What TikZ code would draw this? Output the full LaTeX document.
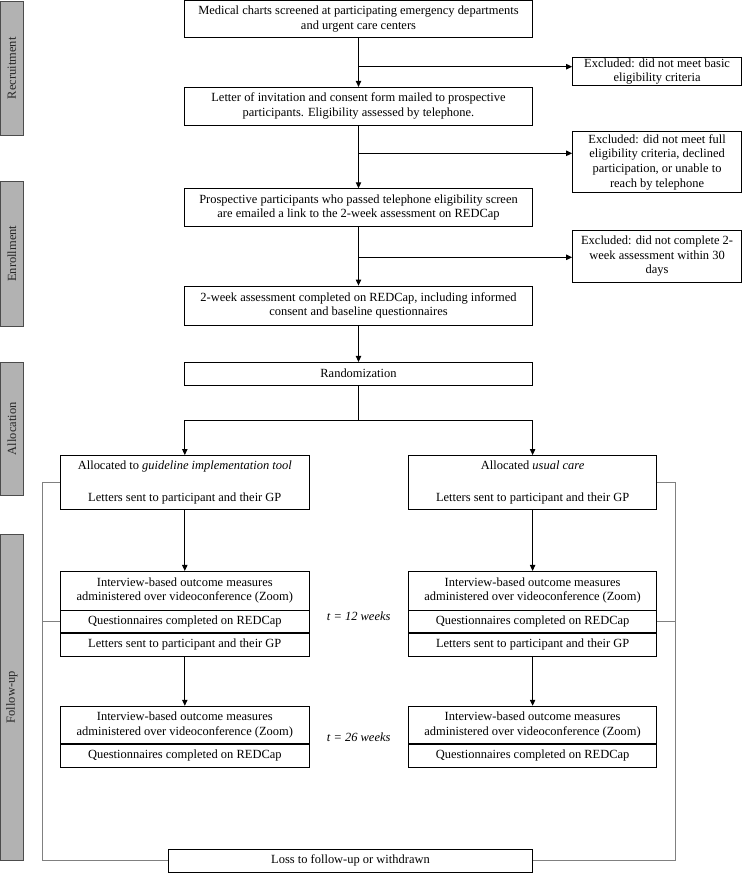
\documentclass[tikz,border=0pt]{standalone}
\usepackage{fontspec}
\setmainfont{Liberation Serif}
\usetikzlibrary{arrows.meta, positioning}

\begin{document}
\begin{tikzpicture}[
  x=0.75pt, y=-0.75pt,
  font=\fontsize{9.35}{10.9}\selectfont,
  stage/.style={draw, line width=0.6pt, fill=white, align=center, inner sep=0pt, minimum width=260.9pt},
  excluded/.style={draw, line width=0.6pt, fill=white, align=center, inner sep=0pt, minimum width=126.75pt},
  arm/.style={draw, line width=0.6pt, fill=white, align=center, inner sep=0pt, minimum width=186.3pt},
  phase/.style={draw=black!70, fill=black!30, line width=0.6pt, rotate=90, inner sep=0pt, minimum height=17.8pt, text=black!85},
  flow/.style={line width=0.75pt, -{Triangle[length=4.5pt, width=4pt]}},
  dropout/.style={draw=black!50, line width=0.6pt},
  timepoint/.style={font=\fontsize{9.35}{10.9}\selectfont\itshape}
  ]
  \useasboundingbox (0,0) rectangle (742,873);

  % Phase bars
  \node[phase, minimum width=100pt] (recruit) at (11.85,68.3) {Recruitment};
  \node[phase, minimum width=109.3pt] (enrol) at (11.85,253.8) {Enrollment};
  \node[phase, minimum width=99.5pt] (alloc) at (11.85,428.7) {Allocation};
  \node[phase, minimum width=245pt] (follow) at (11.85,697.3) {Follow-up};

  % Screening and enrollment
  \node[stage, minimum height=27.75pt] (charts) at (358.5,19) {Medical charts screened at participating emergency departments\\and urgent care centers};
  \node[excluded, minimum height=21pt] (excl1) at (657.1,71.3) {Excluded: did not meet basic\\eligibility criteria};
  \node[stage, minimum height=28.3pt] (letter) at (358.5,106.2) {Letter of invitation and consent form mailed to prospective\\participants. Eligibility assessed by telephone.};
  \node[excluded, minimum height=45.75pt] (excl2) at (657.1,162.2) {Excluded: did not meet full\\eligibility criteria, declined\\participation, or unable to\\reach by telephone};
  \node[stage, minimum height=28.5pt] (email) at (358.5,207.7) {Prospective participants who passed telephone eligibility screen\\are emailed a link to the 2-week assessment on REDCap};
  \node[excluded, minimum height=39.5pt] (excl3) at (657.1,256.3) {Excluded: did not complete 2-\\week assessment within 30\\days};
  \node[stage, minimum height=29.25pt] (baseline) at (358.5,305.5) {2-week assessment completed on REDCap, including informed\\consent and baseline questionnaires};
  \node[stage, minimum height=17pt] (random) at (358.5,373.7) {Randomization};

  % Arms
  \node[arm, minimum height=40.5pt] (toolA) at (184.8,482.5) {Allocated to \textit{guideline implementation tool}\\[12.5pt]Letters sent to participant and their GP};
  \node[arm, minimum height=40.5pt] (careB) at (532.6,482.5) {Allocated \textit{usual care}\\[12.5pt]Letters sent to participant and their GP};

  % 12 weeks
  \node[arm, minimum height=29pt] (ivA12) at (184.8,590.7) {Interview-based outcome measures\\administered over videoconference (Zoom)};
  \node[arm, minimum height=16.5pt, below=0pt of ivA12] (qA12) {Questionnaires completed on REDCap};
  \node[arm, minimum height=17pt, below=0pt of qA12] (lA12) {Letters sent to participant and their GP};
  \node[arm, minimum height=29pt] (ivB12) at (532.6,590.7) {Interview-based outcome measures\\administered over videoconference (Zoom)};
  \node[arm, minimum height=16.5pt, below=0pt of ivB12] (qB12) {Questionnaires completed on REDCap};
  \node[arm, minimum height=17pt, below=0pt of qB12] (lB12) {Letters sent to participant and their GP};
  \node[timepoint] (t12) at (358.7,616) {t = 12 weeks};

  % 26 weeks
  \node[arm, minimum height=28.2pt] (ivA26) at (184.8,725) {Interview-based outcome measures\\administered over videoconference (Zoom)};
  \node[arm, minimum height=17pt, below=0pt of ivA26] (qA26) {Questionnaires completed on REDCap};
  \node[arm, minimum height=28.2pt] (ivB26) at (532.6,725) {Interview-based outcome measures\\administered over videoconference (Zoom)};
  \node[arm, minimum height=17pt, below=0pt of ivB26] (qB26) {Questionnaires completed on REDCap};
  \node[timepoint] (t26) at (358.7,737.7) {t = 26 weeks};

  \node[stage, minimum width=272.9pt, minimum height=17.25pt] (withdrawn) at (350.5,860.8) {Loss to follow-up or withdrawn};

  % Flow
  \coordinate (split1) at (358.5,66.7);
  \coordinate (split2) at (358.5,153.3);
  \coordinate (split3) at (358.5,257.3);
  \coordinate (split4) at (358.5,420.7);
  \draw[flow] (charts) -- (letter);
  \draw[flow] (split1) -- (split1 -| excl1.west);
  \draw[flow] (letter) -- (email);
  \draw[flow] (split2) -- (split2 -| excl2.west);
  \draw[flow] (email) -- (baseline);
  \draw[flow] (split3) -- (split3 -| excl3.west);
  \draw[flow] (baseline) -- (random);
  \draw[line width=0.75pt] (random) -- (split4);
  \draw[flow] (split4) -| (toolA);
  \draw[flow] (split4) -| (careB);
  \draw[flow] (toolA) -- (ivA12);
  \draw[flow] (careB) -- (ivB12);
  \draw[flow] (lA12) -- (ivA26);
  \draw[flow] (lB12) -- (ivB26);

  % Loss to follow-up frame
  \coordinate (frameL) at (42.6,860.8);
  \coordinate (frameR) at (675.8,860.8);
  \draw[dropout] (toolA.west) -| (frameL) -- (withdrawn.west);
  \draw[dropout] (qA12.west) -- (qA12.west -| frameL);
  \draw[dropout] (careB.east) -| (frameR) -- (withdrawn.east);
  \draw[dropout] (qB12.east) -- (qB12.east -| frameR);

\end{tikzpicture}
\end{document}
